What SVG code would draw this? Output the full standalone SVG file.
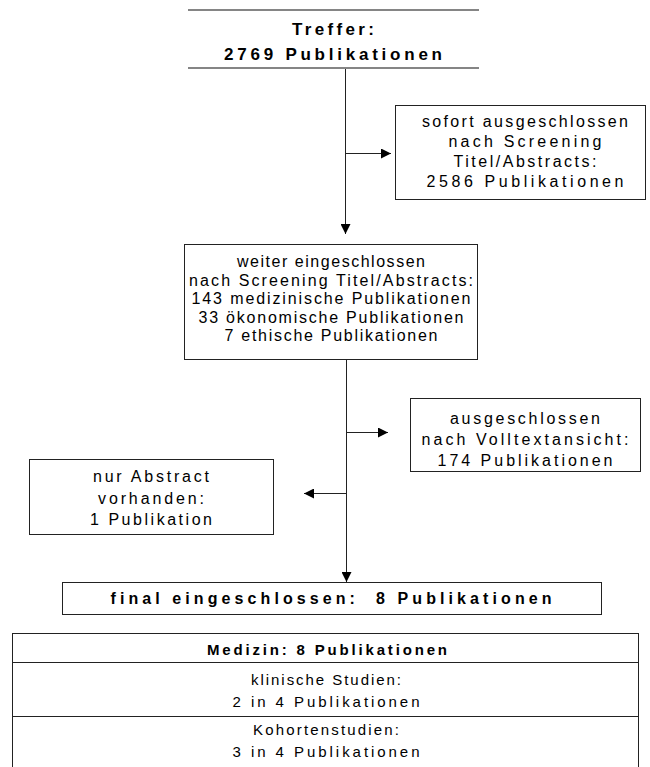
<svg xmlns="http://www.w3.org/2000/svg" width="650" height="767" viewBox="0 0 650 767">
<style>
.box{fill:#fff;stroke:#222;stroke-width:1}
.t{font-family:"Liberation Sans",Arial,sans-serif;font-size:16px;text-anchor:middle;fill:#000}
.b{font-weight:bold;font-size:17px}
.s{font-size:15px}
.ln{stroke:#222;stroke-width:1;fill:none}
.g{stroke:#858585;stroke-width:2;fill:none}
</style>
<defs>
<marker id="ah" viewBox="0 0 10 10" refX="10" refY="5" markerWidth="10" markerHeight="10" markerUnits="userSpaceOnUse" orient="auto">
<path d="M0,0 L10,5 L0,10 z" fill="#000"/>
</marker>
</defs>
<rect width="650" height="767" fill="#fff"/>
<g id="connectors">
<line class="ln" x1="345.5" y1="68" x2="345.5" y2="234" marker-end="url(#ah)"/>
<line class="ln" x1="345.5" y1="153.5" x2="391" y2="153.5" marker-end="url(#ah)"/>
<line class="ln" x1="346.5" y1="360" x2="346.5" y2="582" marker-end="url(#ah)"/>
<line class="ln" x1="346.5" y1="432.5" x2="388" y2="432.5" marker-end="url(#ah)"/>
<line class="ln" x1="346.5" y1="493.5" x2="304" y2="493.5" marker-end="url(#ah)"/>
</g>
<g id="n1">
<rect x="188" y="10" width="291" height="58" fill="#fff"/>
<line class="g" x1="188" y1="10" x2="479" y2="10"/>
<line class="g" x1="188" y1="68" x2="479" y2="68"/>
<text class="t b" x="333" y="35" textLength="82" lengthAdjust="spacing">Treffer:</text>
<text class="t b" x="333" y="60" textLength="218" lengthAdjust="spacing">2769 Publikationen</text>
</g>
<g id="n2">
<rect class="box" x="395.5" y="105.5" width="250" height="94"/>
<text class="t" x="525" y="127" textLength="206" lengthAdjust="spacing">sofort ausgeschlossen</text>
<text class="t" x="525" y="147" textLength="153" lengthAdjust="spacing">nach Screening</text>
<text class="t" x="525" y="167" textLength="143" lengthAdjust="spacing">Titel/Abstracts:</text>
<text class="t" x="525" y="187" textLength="197" lengthAdjust="spacing">2586 Publikationen</text>
</g>
<g id="n3">
<rect class="box" x="184.5" y="244.5" width="293" height="115"/>
<text class="t" x="331" y="267" textLength="188" lengthAdjust="spacing">weiter eingeschlossen</text>
<text class="t" x="331" y="285.5" textLength="284" lengthAdjust="spacing">nach Screening Titel/Abstracts:</text>
<text class="t" x="331" y="304" textLength="279" lengthAdjust="spacing">143 medizinische Publikationen</text>
<text class="t" x="331" y="322.5" textLength="265" lengthAdjust="spacing">33 ökonomische Publikationen</text>
<text class="t" x="331" y="341" textLength="213" lengthAdjust="spacing">7 ethische Publikationen</text>
</g>
<g id="n4">
<rect class="box" x="410.5" y="398.5" width="230" height="73"/>
<text class="t" x="525" y="424" textLength="150" lengthAdjust="spacing">ausgeschlossen</text>
<text class="t" x="525" y="445" textLength="207" lengthAdjust="spacing">nach Volltextansicht:</text>
<text class="t" x="525" y="466" textLength="175" lengthAdjust="spacing">174 Publikationen</text>
</g>
<g id="n5">
<rect class="box" x="29.5" y="459.5" width="244" height="75"/>
<text class="t" x="151" y="482" textLength="116" lengthAdjust="spacing">nur Abstract</text>
<text class="t" x="151" y="504" textLength="106" lengthAdjust="spacing">vorhanden:</text>
<text class="t" x="151" y="525" textLength="122" lengthAdjust="spacing">1 Publikation</text>
</g>
<g id="n6">
<rect class="box" x="62.5" y="582.5" width="539" height="32"/>
<text class="t b" x="331" y="604" textLength="441" lengthAdjust="spacing" style="font-size:16px;white-space:pre">final eingeschlossen:  8 Publikationen</text>
</g>
<g id="n7">
<rect class="box" x="12.5" y="633.5" width="626" height="140"/>
<line class="ln" x1="12" y1="662.5" x2="639" y2="662.5"/>
<line class="ln" x1="12" y1="716.5" x2="639" y2="716.5"/>
<text class="t b" x="327" y="655" textLength="240" lengthAdjust="spacing" style="font-size:15px">Medizin: 8 Publikationen</text>
<text class="t s" x="326" y="685" textLength="150" lengthAdjust="spacing">klinische Studien:</text>
<text class="t s" x="326" y="707" textLength="187" lengthAdjust="spacing">2 in 4 Publikationen</text>
<text class="t s" x="326" y="735" textLength="146" lengthAdjust="spacing">Kohortenstudien:</text>
<text class="t s" x="326" y="757" textLength="187" lengthAdjust="spacing">3 in 4 Publikationen</text>
</g>
</svg>
